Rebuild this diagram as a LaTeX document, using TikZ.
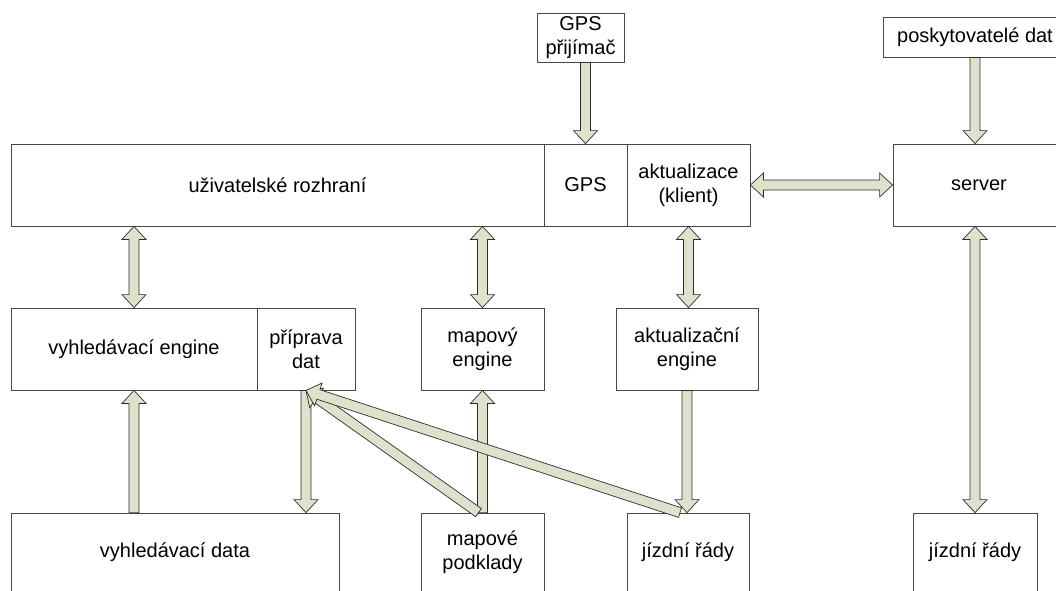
\documentclass[tikz,border=0pt]{standalone}
\usepackage{fontspec}
\setmainfont{Liberation Sans}
\usetikzlibrary{calc}

\definecolor{arrfill}{RGB}{221,226,204}
\definecolor{arrline}{RGB}{45,45,45}
\definecolor{boxline}{RGB}{70,70,70}

\begin{document}
\begin{tikzpicture}[x=1pt,y=-1pt,
		box/.style={draw=boxline, line width=0.8pt, inner sep=0pt, align=center, minimum height=82pt, font=\fontsize{20}{24}\selectfont},
		blockarrow/.style={fill=arrfill, draw=arrline, line width=0.7pt, line join=miter}]
		\newcommand{\onearrow}[2]{ % #1: tail, #2: tip
			\coordinate (hb) at ($(#2)!13pt!(#1)$);
			\filldraw[blockarrow] ($(#1)!5pt!90:(#2)$) -- ($(hb)!5pt!-90:(#1)$) -- ($(hb)!12pt!-90:(#1)$) -- (#2)
				-- ($(hb)!12pt!90:(#1)$) -- ($(hb)!5pt!90:(#1)$) -- ($(#1)!5pt!-90:(#2)$) -- cycle;
		}
		\newcommand{\twoarrow}[2]{ % #1: first tip, #2: second tip
			\coordinate (ha) at ($(#1)!13pt!(#2)$);
			\coordinate (hb) at ($(#2)!13pt!(#1)$);
			\filldraw[blockarrow] (#1) -- ($(ha)!12pt!90:(#2)$) -- ($(ha)!5pt!90:(#2)$) -- ($(hb)!5pt!-90:(#1)$) -- ($(hb)!12pt!-90:(#1)$) -- (#2)
				-- ($(hb)!12pt!90:(#1)$) -- ($(hb)!5pt!90:(#1)$) -- ($(ha)!5pt!-90:(#2)$) -- ($(ha)!12pt!-90:(#2)$) -- cycle;
		}
		\clip (0,0) rectangle (1056,590);
		
		%sources on top
		\node[box, minimum width=87pt, minimum height=49pt] (gpsrx) at (580.5,37.5) {GPS\\přijímač};
		\node[box, minimum width=184pt, minimum height=40pt] (prov) at (975,37) {poskytovatelé dat};
		
		%client
		\node[box, minimum width=533pt] (ui) at (277.5,185) {uživatelské rozhraní};
		\node[box, minimum width=83pt] (gps) at (585.5,185) {GPS};
		\node[box, minimum width=123pt] (akt) at (688.5,185) {aktualizace\\(klient)};
		\node[box, minimum width=172pt] (server) at (979,185) {server};
		
		%engines
		\node[box, minimum width=246pt] (vyh) at (134,349) {vyhledávací engine};
		\node[box, minimum width=98pt] (prip) at (306,349) {příprava\\dat};
		\node[box, minimum width=123pt] (map) at (482.5,349) {mapový\\engine};
		\node[box, minimum width=142pt] (akteng) at (687,349) {aktualizační\\engine};
		
		%data
		\node[box, minimum width=328pt, minimum height=78pt] (vdata) at (175,552) {vyhledávací data};
		\node[box, minimum width=123pt, minimum height=78pt] (mpod) at (482.5,552) {mapové\\podklady};
		\node[box, minimum width=122pt, minimum height=78pt] (jrc) at (688,552) {jízdní řády};
		\node[box, minimum width=124pt, minimum height=78pt] (jrs) at (975,552) {jízdní řády};
		
		%arrow ends
		\coordinate (gpsin) at (gps.north |- gpsrx.south);
		\coordinate (provout) at (jrs.north |- prov.south);
		\coordinate (servin) at (jrs.north |- server.north);
		\coordinate (servout) at (jrs.north |- server.south);
		\coordinate (uivyh) at (vyh.north |- ui.south);
		\coordinate (uimap) at (map.north |- ui.south);
		\coordinate (aktin) at (akt.south |- akteng.north);
		\coordinate (vdataout) at (vyh.south |- vdata.north);
		\coordinate (pripin) at (prip.south |- vdata.north);
		\coordinate (jrcin) at (akteng.south |- jrc.north);
		\coordinate (mpodout) at ($(mpod.north)+(-4,0)$);
		\coordinate (jrcout) at ($(jrc.north)+(-8,0)$);
		
		\onearrow{gpsin}{gps.north}
		\onearrow{provout}{servin}
		\twoarrow{akt.east}{server.west}
		\twoarrow{uivyh}{vyh.north}
		\twoarrow{uimap}{map.north}
		\twoarrow{akt.south}{aktin}
		\twoarrow{servout}{jrs.north}
		
		\onearrow{vdataout}{vyh.south}
		\onearrow{prip.south}{pripin}
		\onearrow{mpod.north}{map.south}
		\onearrow{akteng.south}{jrcin}
		
		%diagonal arrows into data preparation
		\onearrow{mpodout}{prip.south}
		\onearrow{jrcout}{prip.south}
		
	\end{tikzpicture}
\end{document}
